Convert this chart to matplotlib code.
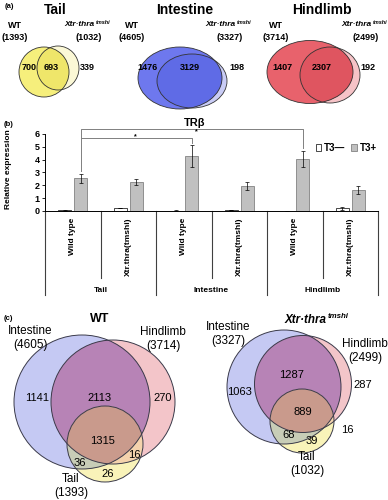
import matplotlib
matplotlib.use("Agg")
import matplotlib.pyplot as plt
import numpy as np
from matplotlib.patches import Ellipse, Polygon

plt.rcParams['font.family'] = ['Liberation Sans', 'DejaVu Sans']

# ---------------- data ----------------
# (a) two-set Venn counts per tissue: WT only, shared, mutant only
tissues = ['Tail', 'Intestine', 'Hindlimb']
wt_totals = [1393, 4605, 3714]
mut_totals = [1032, 3327, 2499]
wt_only = [700, 1476, 1407]
shared = [693, 3129, 2307]
mut_only = [339, 198, 192]

# (b) TRbeta qPCR
genotypes = ['Wild type', 'Xtr.thra(tmshi)']
t3_minus = [0.05, 0.22, 0.03, 0.09, 0.02, 0.20]
t3_minus_err = [0.02, 0.02, 0.01, 0.02, 0.01, 0.15]
t3_plus = [2.55, 2.25, 4.30, 1.95, 4.05, 1.65]
t3_plus_err = [0.33, 0.22, 0.85, 0.30, 0.62, 0.30]

# (c) three-set Venn: I only, I&H, H only, I&H&T, I&T, H&T, T only
wt3_totals = [4605, 3714, 1393]
wt3_counts = [1141, 2113, 270, 1315, 36, 16, 26]
mut3_totals = [3327, 2499, 1032]
mut3_counts = [1063, 1287, 287, 889, 68, 16, 39]


def region(shapes, n=720):
    """Polygon of the intersection of a few ellipses (cx, cy, a, b)."""
    t = np.linspace(0, 2 * np.pi, n, endpoint=False)
    pts = []
    for i, (cx, cy, a, b) in enumerate(shapes):
        x = cx + a * np.cos(t)
        y = cy + b * np.sin(t)
        keep = np.ones(n, bool)
        for j, (cx2, cy2, a2, b2) in enumerate(shapes):
            if j != i:
                keep &= ((x - cx2) / a2) ** 2 + ((y - cy2) / b2) ** 2 <= 1.0
        pts.append(np.column_stack([x[keep], y[keep]]))
    pts = np.vstack(pts)
    c = pts.mean(0)
    order = np.argsort(np.arctan2(pts[:, 1] - c[1], pts[:, 0] - c[0]))
    return pts[order]


def ell(ax, s, **kw):
    ax.add_patch(Ellipse((s[0], s[1]), 2 * s[2], 2 * s[3], **kw))


def genotype_label(ax, xj, y, s_main, s_sup):
    ax.text(xj, y, 'Xtr\u00b7thra', fontsize=s_main, fontweight='bold',
            fontstyle='italic', ha='right', va='center')
    ax.text(xj + 0.5, y - s_main * 0.45, 'tmshi', fontsize=s_sup,
            fontweight='bold', fontstyle='italic', ha='left', va='center')


fig = plt.figure(figsize=(3.88, 5.0), dpi=100)
ov = fig.add_axes([0, 0, 1, 1])
ov.set_xlim(0, 388)
ov.set_ylim(500, 0)
ov.axis('off')

# ---------------- (a) ----------------
ov.text(9, 6, '(a)', fontsize=5.5, fontweight='bold', ha='center', va='center')
title_x = [55, 185, 322]
wt_shapes = [(44, 72, 25, 25), (180, 78, 42, 31), (310, 72, 43, 31.5)]
mut_shapes = [(58, 68, 21, 22), (192, 81, 35, 27), (330, 75, 30, 28)]
main_cols = ['#f6ef7c', '#6e78ee', '#e8626c']
over_cols = ['#efe66a', '#5f6be6', '#df5560']
light_cols = ['#fbf8d6', '#c9ccf6', '#f6c3c7']
wt_lab_x = [15, 132, 276]
mut_junc = [95, 236, 372]
num_x = [(29, 51, 87), (148, 190, 237), (282, 322, 368)]

for k in range(3):
    ov.text(title_x[k], 10, tissues[k], fontsize=10, fontweight='bold',
            ha='center', va='center')
    w, m = wt_shapes[k], mut_shapes[k]
    ell(ov, m, facecolor=light_cols[k], edgecolor='none')
    ell(ov, w, facecolor=main_cols[k], edgecolor='none')
    ov.add_patch(Polygon(region([w, m]), closed=True, facecolor=over_cols[k],
                         edgecolor='none'))
    ell(ov, w, facecolor='none', edgecolor='#333333', lw=0.6)
    ell(ov, m, facecolor='none', edgecolor='#333333', lw=0.6)
    ov.text(wt_lab_x[k], 25, 'WT', fontsize=6.5, fontweight='bold',
            ha='center', va='center')
    ov.text(wt_lab_x[k], 37, f'({wt_totals[k]})', fontsize=6.5,
            fontweight='bold', ha='center', va='center')
    genotype_label(ov, mut_junc[k], 25, 6, 4)
    ov.text(mut_junc[k] - 6, 37, f'({mut_totals[k]})', fontsize=6.5,
            fontweight='bold', ha='center', va='center')
    for xx, v in zip(num_x[k], [wt_only[k], shared[k], mut_only[k]]):
        ov.text(xx, 68, str(v), fontsize=6.5, fontweight='bold',
                ha='center', va='center')

# ---------------- (b) ----------------
ov.text(9, 125, '(b)', fontsize=5.5, fontweight='bold', ha='center', va='center')
ov.text(195, 123, 'TR\u03b2', fontsize=8, fontweight='bold', ha='center',
        va='center')

ax = fig.add_axes([45 / 388, 1 - 211 / 500, 333 / 388, 77 / 500])
ax.patch.set_alpha(0)
x = np.arange(len(t3_plus))
off, bw = 0.145, 0.234
h1 = ax.bar(x - off, t3_minus, bw, color='white', edgecolor='black', lw=0.5,
            yerr=t3_minus_err, error_kw=dict(ecolor='black', elinewidth=0.5,
                                             capsize=1.3, capthick=0.5),
            label='T3\u2014')
h2 = ax.bar(x + off, t3_plus, bw, color='#c0c0c0', edgecolor='#707070', lw=0.5,
            yerr=t3_plus_err, error_kw=dict(ecolor='black', elinewidth=0.5,
                                            capsize=1.3, capthick=0.5),
            label='T3+')
ax.set_xlim(-0.5, 5.5)
ax.set_ylim(0, 6)
ax.set_yticks(range(7))
ax.set_yticklabels([str(i) for i in range(7)], fontsize=6.5, fontweight='bold')
ax.set_xticks([])
ax.tick_params(axis='y', length=2, width=0.6, pad=2)
for sp in ['top', 'right']:
    ax.spines[sp].set_visible(False)
ax.spines['left'].set_linewidth(0.7)
ax.spines['bottom'].set_linewidth(0.7)
ax.set_ylabel('Relative expression', fontsize=6, fontweight='bold')
ax.yaxis.set_label_coords(-0.1, 0.55)

xt = ax.get_xaxis_transform()
for b in np.arange(-0.5, 6, 1.0):
    long_line = int(b + 0.5) % 2 == 0
    ax.plot([b, b], [0, -1.09 if long_line else -0.87], transform=xt,
            color='#404040', lw=0.8, clip_on=False)
for i in x:
    ax.text(i, -0.09, genotypes[i % 2], transform=xt, rotation=90, ha='center',
            va='top', fontsize=6, fontweight='bold')
for k in range(3):
    ax.text(2 * k + 0.5, -1.03, tissues[k], transform=xt, ha='center',
            va='center', fontsize=6, fontweight='bold')

# significance brackets
bc = '#808080'
ax.plot([off, off, 4 + off, 4 + off], [3.15, 6.4, 6.4, 4.9], color=bc, lw=0.7,
        clip_on=False)
ax.plot([off, 2 + off, 2 + off], [5.7, 5.7, 5.3], color=bc, lw=0.7,
        clip_on=False)
ax.text(1.12, 5.8, '*', fontsize=5, fontweight='bold', ha='center',
        va='center')
ax.text(2.22, 6.2, '*', fontsize=5, fontweight='bold', ha='center',
        va='center')

leg = ax.legend(handles=[h1, h2], ncol=2, frameon=False, loc='center',
                bbox_to_anchor=(0.905, 0.82), handlelength=0.6,
                handleheight=0.6, handletextpad=0.3, columnspacing=0.6,
                prop=dict(size=7, weight='bold'))

# ---------------- (c) ----------------
ov.text(8, 318, '(c)', fontsize=5.5, fontweight='bold', ha='center', va='center')
ov.text(100, 319, 'WT', fontsize=9, fontweight='bold', ha='center', va='center')
genotype_label(ov, 327, 320, 8.4, 5.7)

fill3 = ['#c5c9f3', '#f3c5c9', '#f9f3b9']
pair_cols = {(0, 1): '#b783b6', (0, 2): '#c8cdb7', (1, 2): '#f4d3ad'}
triple_col = '#c99a8c'
venn3 = [
    dict(shapes=[(82, 402, 68, 67), (113, 402, 62, 62), (105, 444, 38, 38)],
         totals=wt3_totals, counts=wt3_counts,
         lab=[(30, 331), (163, 332), (71, 479)],
         num=[(37, 398), (100, 398), (163, 398), (103, 441), (80, 463),
              (134, 455), (108, 474)]),
    dict(shapes=[(284, 387, 57, 57), (303, 384, 48.5, 48.5), (302, 421, 32, 32)],
         totals=mut3_totals, counts=mut3_counts,
         lab=[(228, 327), (365, 344), (307, 457)],
         num=[(240, 392), (292, 375), (363, 385), (303, 412), (289, 435),
              (347, 430), (312, 441)]),
]
names3 = ['Intestine', 'Hindlimb', 'Tail']
for v in venn3:
    sh = v['shapes']
    for s, c in zip(sh, fill3):
        ell(ov, s, facecolor=c, edgecolor='none')
    for (i, j), c in pair_cols.items():
        ov.add_patch(Polygon(region([sh[i], sh[j]]), closed=True, facecolor=c,
                             edgecolor='none'))
    ov.add_patch(Polygon(region(sh), closed=True, facecolor=triple_col,
                         edgecolor='none'))
    for s in sh:
        ell(ov, s, facecolor='none', edgecolor='#3a3a4a', lw=0.7)
    for (lx, ly), nm, tot in zip(v['lab'], names3, v['totals']):
        ov.text(lx, ly, nm, fontsize=8.5, ha='center', va='center')
        ov.text(lx, ly + 14, f'({tot})', fontsize=8.5, ha='center',
                va='center')
    for (nx, ny), c in zip(v['num'], v['counts']):
        ov.text(nx, ny, str(c), fontsize=8, ha='center', va='center')

fig.savefig('out.png', dpi=100)
